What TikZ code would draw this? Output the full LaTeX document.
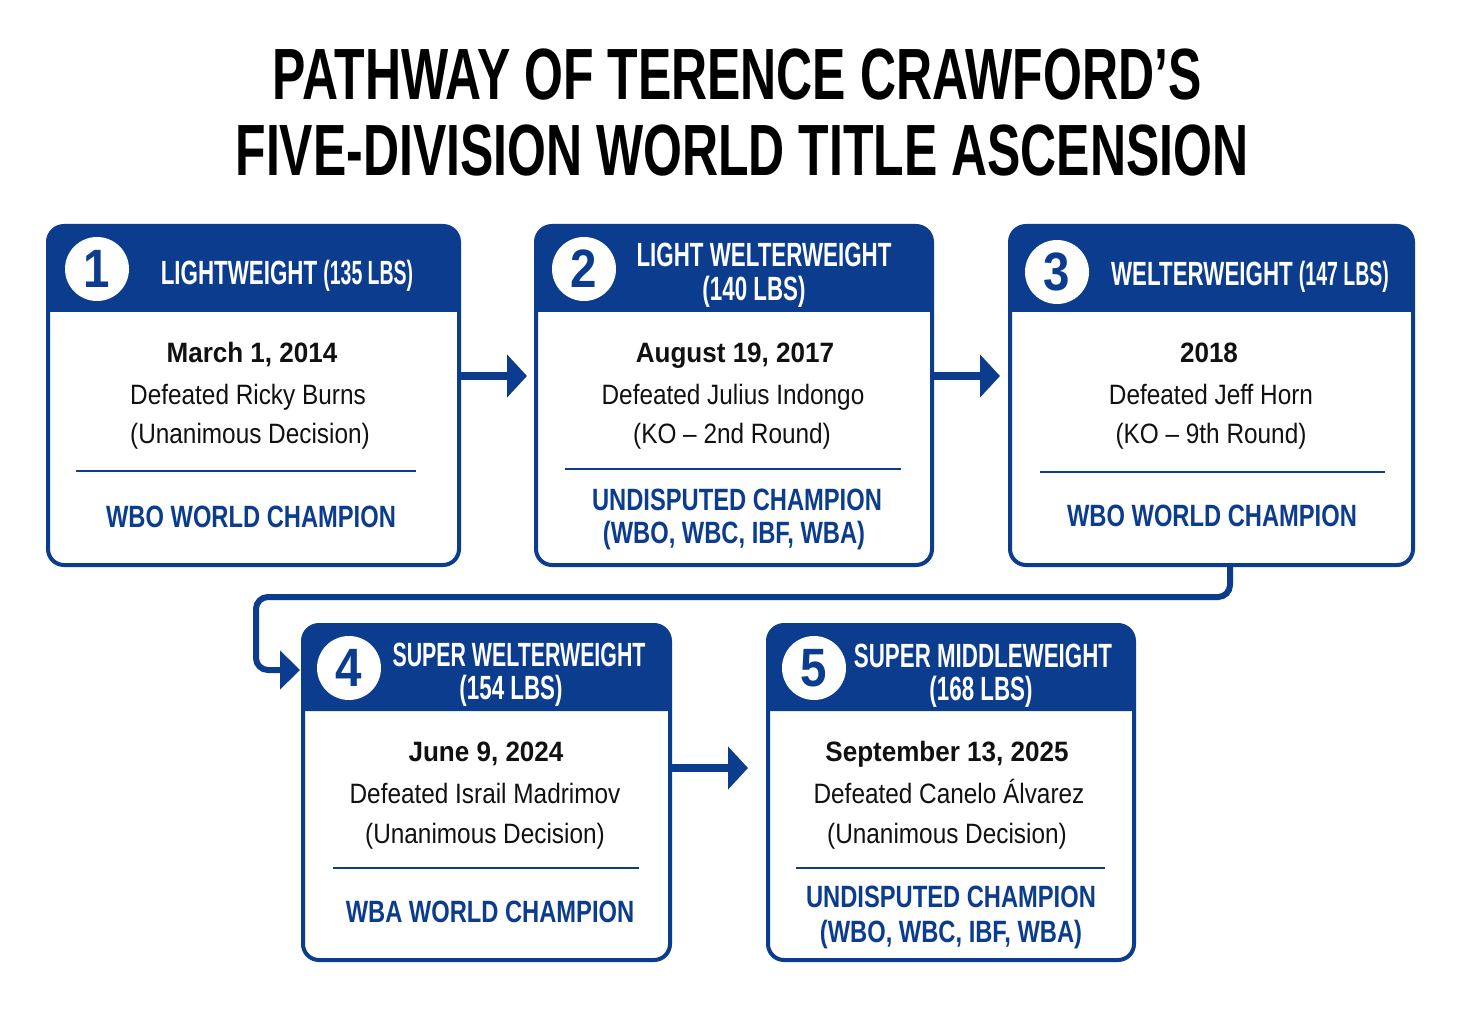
\documentclass[tikz,border=0pt]{standalone}
\usepackage{fontspec}
\usetikzlibrary{arrows.meta}
\setmainfont{Liberation Sans}
\newfontfamily\titlefont[FakeStretch=0.688]{Liberation Sans}
\newfontfamily\headfont[FakeStretch=0.665]{Liberation Sans}
\newfontfamily\headfontn[FakeStretch=0.635]{Liberation Sans}
\newfontfamily\parenfont[FakeStretch=0.58]{Liberation Sans}
\newfontfamily\bodyfont[FakeStretch=0.87]{Liberation Sans}
\newfontfamily\datefont[FakeStretch=0.93]{Liberation Sans}
\newfontfamily\champfont[FakeStretch=0.77]{Liberation Sans}
\newfontfamily\numfont[FakeStretch=0.88]{Liberation Sans}
\definecolor{cblue}{HTML}{0B3C8E}
\definecolor{ink}{HTML}{111111}
\tikzset{
  cardbox/.style={draw=cblue, line width=2pt, fill=white, rounded corners=8pt, outer sep=0pt, inner sep=0pt},
  numcirc/.style={circle, fill=white, minimum size=32pt, inner sep=0pt, text=cblue, font=\numfont\bfseries\fontsize{27}{27}\selectfont},
  titletxt/.style={anchor=base, inner sep=0pt, text=black, font=\titlefont\bfseries\fontsize{36.3}{40}\selectfont},
  headtxt/.style={anchor=base, inner sep=0pt, text=white, font=\headfont\bfseries\fontsize{16.8}{20}\selectfont},
  datetxt/.style={anchor=base, inner sep=0pt, text=ink, font=\datefont\bfseries\fontsize{14}{17}\selectfont},
  bodytxt/.style={anchor=base, inner sep=0pt, text=ink, font=\bodyfont\fontsize{14}{17}\selectfont},
  champtxt/.style={anchor=base, inner sep=0pt, text=cblue, font=\champfont\bfseries\fontsize{15.4}{18}\selectfont},
  sepline/.style={draw=cblue, line width=1.3pt},
  flow/.style={draw=cblue, line width=4pt, -{Triangle[length=10pt,width=21pt]}},
  bendflow/.style={draw=cblue, line width=3pt, rounded corners=6pt, -{Triangle[length=10pt,width=19pt]}}
}
\newcommand{\cardhead}[1]{%
  \fill[cblue] ([yshift=-43pt]#1.north west) [rounded corners=8pt] -- (#1.north west) -- (#1.north east) [sharp corners] -- ([yshift=-43pt]#1.north east) -- cycle;}
\begin{document}
\begin{tikzpicture}[x=0.5pt,y=-0.5pt]
\useasboundingbox[fill=white] (0,0) rectangle (1462,1010);

% title
\node[titletxt] (t1) at (737,100) {PATHWAY OF TERENCE CRAWFORD’S};
\node[titletxt] (t2) at (742,176) {FIVE-DIVISION WORLD TITLE ASCENSION};

% cards
\node[cardbox, minimum width=205.5pt, minimum height=169.5pt] (c1) at (253.5,395.5) {};
\cardhead{c1}
\node[cardbox, minimum width=198pt, minimum height=169.5pt] (c2) at (734,395.5) {};
\cardhead{c2}
\node[cardbox, minimum width=201.5pt, minimum height=169.5pt] (c3) at (1211.5,395.5) {};
\cardhead{c3}
\node[cardbox, minimum width=183.5pt, minimum height=167.5pt] (c4) at (486.5,792.5) {};
\cardhead{c4}
\node[cardbox, minimum width=183pt, minimum height=167.5pt] (c5) at (951,792.5) {};
\cardhead{c5}

% number circles
\node[numcirc] (n1) at (97,269) {1};
\node[numcirc] (n2) at (584,269) {2};
\node[numcirc] (n3) at (1057,272) {3};
\node[numcirc] (n4) at (349,668) {4};
\node[numcirc] (n5) at (814,668) {5};

% headers
\node[headtxt] (h1) at (287,285) {LIGHTWEIGHT {\parenfont(135 LBS)}};
\node[headtxt] (h2a) at (764,267) {LIGHT WELTERWEIGHT};
\node[headtxt] (h2b) at (754,301) {(140 LBS)};
\node[headtxt] (h3) at (1250,286) {WELTERWEIGHT {\parenfont(147 LBS)}};
\node[headtxt, font=\headfontn\bfseries\fontsize{16.8}{20}\selectfont] (h4a) at (519,666) {SUPER WELTERWEIGHT};
\node[headtxt] (h4b) at (511,699) {(154 LBS)};
\node[headtxt] (h5a) at (983,667) {SUPER MIDDLEWEIGHT};
\node[headtxt] (h5b) at (981,700) {(168 LBS)};

% card 1 body
\node[datetxt] (d1) at (252,363) {March 1, 2014};
\node[bodytxt] (b1a) at (248,405) {Defeated Ricky Burns};
\node[bodytxt] (b1b) at (250,444) {(Unanimous Decision)};
\draw[sepline] (76,471) -- (416,471);
\node[champtxt] (w1) at (251,527) {WBO WORLD CHAMPION};

% card 2 body
\node[datetxt] (d2) at (735,363) {August 19, 2017};
\node[bodytxt] (b2a) at (733,405) {Defeated Julius Indongo};
\node[bodytxt] (b2b) at (732,444) {(KO – 2nd Round)};
\draw[sepline] (565,469) -- (901,469);
\node[champtxt] (w2a) at (737,510) {UNDISPUTED CHAMPION};
\node[champtxt] (w2b) at (734,544) {(WBO, WBC, IBF, WBA)};

% card 3 body
\node[datetxt] (d3) at (1209,363) {2018};
\node[bodytxt] (b3a) at (1211,405) {Defeated Jeff Horn};
\node[bodytxt] (b3b) at (1211,444) {(KO – 9th Round)};
\draw[sepline] (1040,472) -- (1385,472);
\node[champtxt] (w3) at (1212,526) {WBO WORLD CHAMPION};

% card 4 body
\node[datetxt] (d4) at (486,761) {June 9, 2024};
\node[bodytxt] (b4a) at (485,803) {Defeated Israil Madrimov};
\node[bodytxt] (b4b) at (485,843) {(Unanimous Decision)};
\draw[sepline] (333,868) -- (639,868);
\node[champtxt] (w4) at (490,922) {WBA WORLD CHAMPION};

% card 5 body
\node[datetxt] (d5) at (947,761) {September 13, 2025};
\node[bodytxt] (b5a) at (949,803) {Defeated Canelo Álvarez};
\node[bodytxt] (b5b) at (947,843) {(Unanimous Decision)};
\draw[sepline] (796,868) -- (1105,868);
\node[champtxt] (w5a) at (951,907) {UNDISPUTED CHAMPION};
\node[champtxt] (w5b) at (951,942) {(WBO, WBC, IBF, WBA)};

% connectors
\draw[flow] ([yshift=9.75pt]c1.east) -- ([yshift=9.75pt,xshift=-4.5pt]c2.west);
\draw[flow] ([yshift=9.75pt]c2.east) -- ([yshift=9.75pt,xshift=-5pt]c3.west);
\draw[flow] ([yshift=12.25pt]c4.east) -- ([yshift=12.25pt,xshift=-10pt]c5.west);
\coordinate (k2) at (256,597);
\draw[bendflow] ([xshift=9.25pt]c3.south) |- (k2) |- ([yshift=61.25pt,xshift=-1.5pt]c4.west);
\end{tikzpicture}
\end{document}
